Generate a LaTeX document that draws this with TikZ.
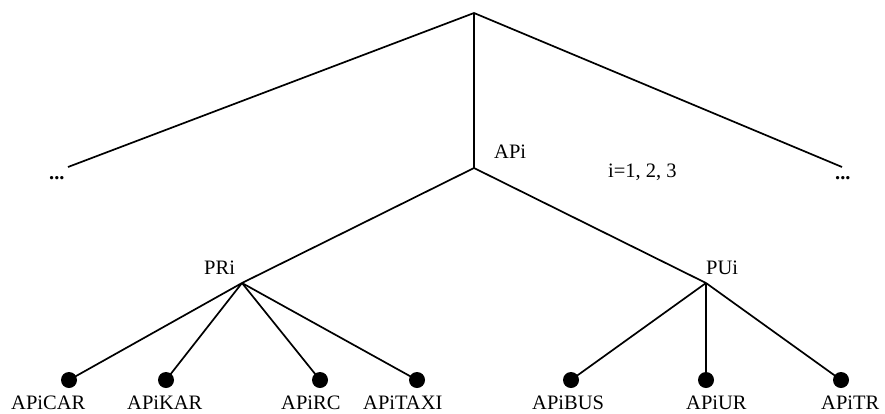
\documentclass[tikz,border=0pt]{standalone}
\usepackage{fontspec}
\setmainfont{Liberation Serif}
\begin{document}
\begin{tikzpicture}[x=1pt,y=-1pt,
  edge/.style={line width=1.7pt},
  leaf/.style={circle,fill=black,inner sep=0pt,minimum size=16pt},
  lbl/.style={anchor=base west,inner sep=0pt,font=\fontsize{20.5}{24}\selectfont}]
\useasboundingbox (0,0) rectangle (885,413);
% junctions
\coordinate (top) at (474,13);
\coordinate (api) at (474,168);
\coordinate (lend) at (68,167);
\coordinate (rend) at (842,167);
\coordinate (pr) at (242,283);
\coordinate (pu) at (706,283);
% leaves
\node[leaf] (car) at (69,380) {};
\node[leaf] (kar) at (166,380) {};
\node[leaf] (rc) at (320,380) {};
\node[leaf] (taxi) at (417,380) {};
\node[leaf] (bus) at (571,380) {};
\node[leaf] (ur) at (706,380) {};
\node[leaf] (tr) at (841,380) {};
% connectors
\draw[edge] (lend) -- (top) -- (rend);
\draw[edge] (top) -- (api);
\draw[edge] (pr) -- (api) -- (pu);
\draw[edge] (pr) -- (car.center);
\draw[edge] (pr) -- (kar.center);
\draw[edge] (pr) -- (rc.center);
\draw[edge] (pr) -- (taxi.center);
\draw[edge] (pu) -- (bus.center);
\draw[edge] (pu) -- (ur.center);
\draw[edge] (pu) -- (tr.center);
% labels
\node[lbl] (ldots) at (49,179) {\textbf{...}};
\node[lbl] (rdots) at (835,179) {\textbf{...}};
\node[lbl] (apil) at (494,158) {APi};
\node[lbl] (idx) at (608,177) {i=1, 2, 3};
\node[lbl] (pril) at (204,274) {PRi};
\node[lbl] (puil) at (706,274) {PUi};
\node[lbl] (carl) at (11,409) {APiCAR};
\node[lbl] (karl) at (127,409) {APiKAR};
\node[lbl] (rcl) at (281,409) {APiRC};
\node[lbl] (taxil) at (363,409) {APiTAXI};
\node[lbl] (busl) at (532,409) {APiBUS};
\node[lbl] (url) at (686,409) {APiUR};
\node[lbl] (trl) at (821,409) {APiTR};
\end{tikzpicture}
\end{document}
